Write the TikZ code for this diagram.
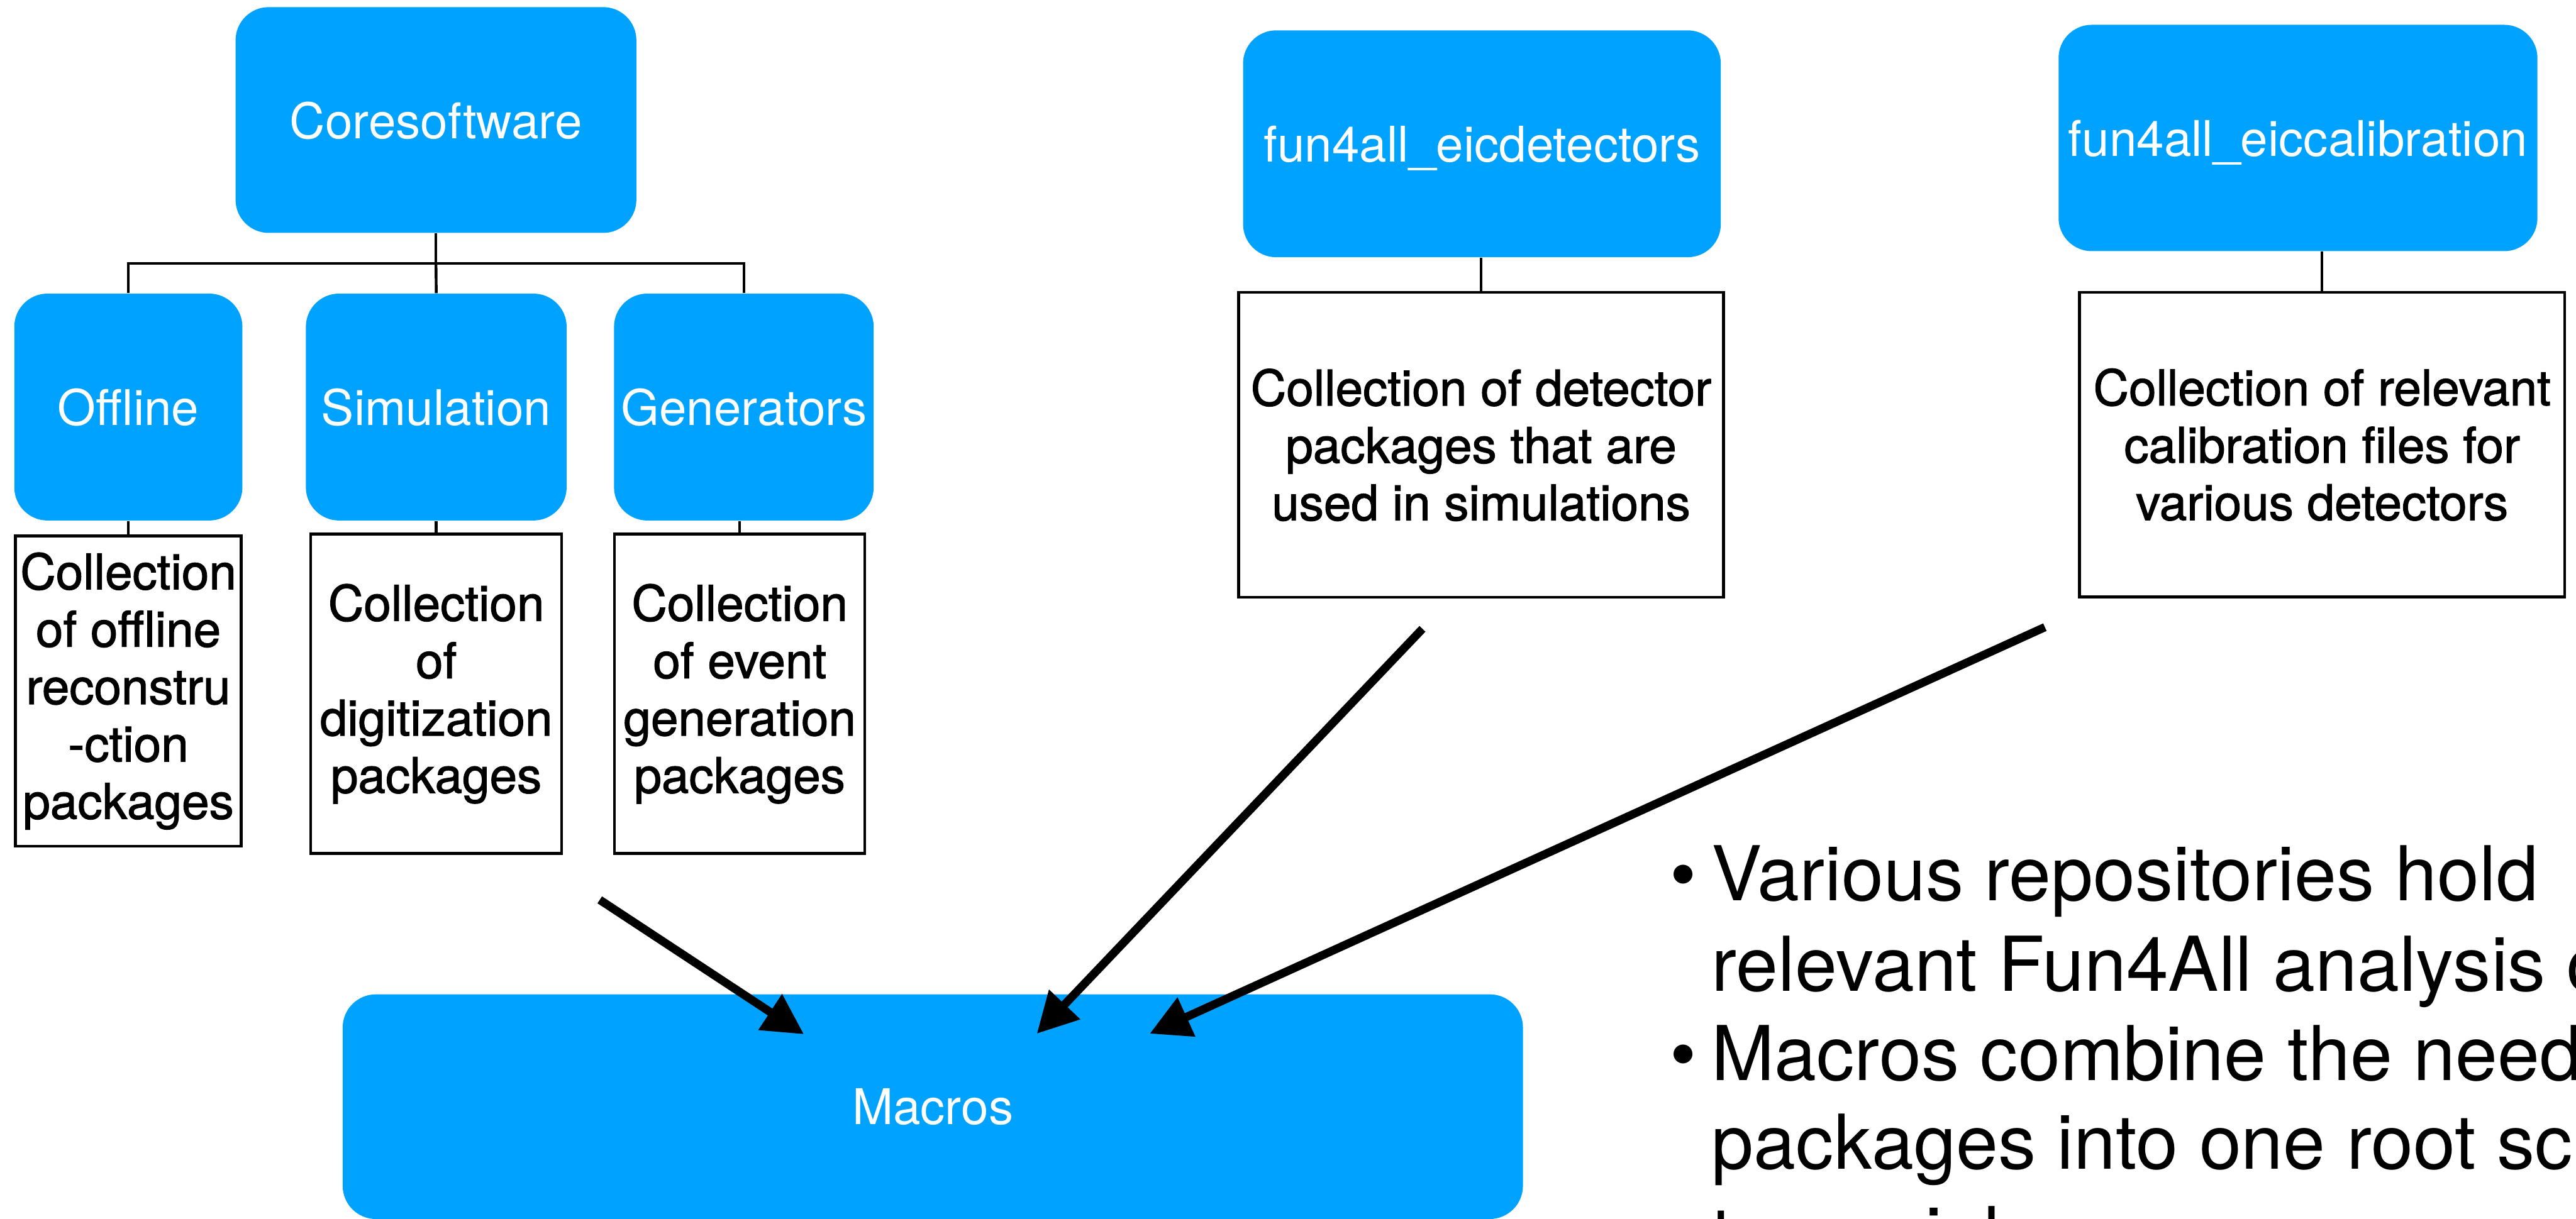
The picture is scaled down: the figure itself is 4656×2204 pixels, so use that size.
\documentclass[tikz,border=0pt]{standalone}
\usepackage{fontspec}
\setmainfont{TeX Gyre Heros}
\newfontfamily\descfont{TeX Gyre Heros}[FakeBold=1.5]
\usetikzlibrary{arrows.meta}
\definecolor{keyblue}{RGB}{0,162,255}

\begin{document}
\begin{tikzpicture}[x=0.01cm, y=-0.01cm,
  bluebox/.style={rectangle, rounded corners=0.6cm, fill=keyblue, text=white,
    inner sep=0pt, text depth=0pt, font=\fontsize{25.3pt}{29.5pt}\selectfont},
  descbox/.style={rectangle, draw=black, line width=0.05cm, fill=white,
    inner sep=0pt, align=center, font=\descfont\fontsize{25.3pt}{29.5pt}\selectfont},
  link/.style={line width=0.05cm},
  bigarrow/.style={line width=0.15cm, -{Triangle[length=0.73cm, width=0.74cm]}},
  bullettext/.style={anchor=base west, inner sep=0pt,
    font=\fontsize{38.9pt}{46pt}\selectfont}
]
\useasboundingbox (0,0) rectangle (4656,2204);
\clip (0,0) rectangle (4656,2204);

% core software tree
\node[bluebox, minimum width=7.24cm, minimum height=4.08cm] (core) at (788,217) {Coresoftware};
\node[bluebox, minimum width=4.12cm, minimum height=4.10cm] (off) at (232,736) {Offline};
\node[bluebox, minimum width=4.71cm, minimum height=4.10cm] (sim) at (788.5,736) {Simulation};
\node[bluebox, minimum width=4.69cm, minimum height=4.10cm] (gen) at (1344.5,736) {Generators};

\node[descbox, minimum width=4.08cm, minimum height=5.61cm] (offd) at (232,1249.5)
  {Collection\\of offline\\reconstru\\-ction\\packages};
\node[descbox, minimum width=4.53cm, minimum height=5.77cm] (simd) at (788.5,1254.5)
  {Collection\\of\\digitization\\packages};
\node[descbox, minimum width=4.52cm, minimum height=5.77cm] (gend) at (1337,1254.5)
  {Collection\\of event\\generation\\packages};

\coordinate (bar) at (788,476);
\draw[link] (core.south) -- (bar);
\draw[link] (off.north) |- (bar) -| (gen.north);
\draw[link] (bar) -- (sim.north);
\draw[link] (off.south) -- (off.south |- offd.north);
\draw[link] (sim.south) -- (sim.south |- simd.north);
\draw[link] (gend.north) -- (gend.north |- gen.south);

% detector and calibration repositories
\node[bluebox, minimum width=8.63cm, minimum height=4.10cm] (det) at (2678.5,260) {fun4all\_eicdetectors};
\node[descbox, minimum width=8.76cm, minimum height=5.51cm] (detd) at (2677,804.5)
  {Collection of detector\\packages that are\\used in simulations};
\draw[link] (detd.north) -- (detd.north |- det.south);

\node[bluebox, minimum width=8.65cm, minimum height=4.09cm] (cal) at (4153.5,249.5) {fun4all\_eiccalibration};
\node[descbox, minimum width=8.76cm, minimum height=5.50cm] (cald) at (4197,804)
  {Collection of relevant\\calibration files for\\various detectors};
\draw[link] (cald.north) -- (cald.north |- cal.south);

% macros
\node[bluebox, minimum width=21.32cm, minimum height=4.06cm] (mac) at (1686,2001) {Macros};

\coordinate (a1s) at (1084,1627);
\coordinate (a1t) at (1453,1870);
\coordinate (a2s) at (2571,1137);
\coordinate (a2t) at (1874,1869);
\coordinate (a3s) at (3696,1134);
\coordinate (a3t) at (2078,1869);
\draw[bigarrow] (a1s) -- (a1t);
\draw[bigarrow] (a2s) -- (a2t);
\draw[bigarrow] (a3s) -- (a3t);

% notes
\node[bullettext] (bul1) at (3018,1628) {\textbullet};
\node[bullettext] (txt1) at (3093,1628) {Various repositories hold};
\node[bullettext] (txt2) at (3093,1792) {relevant Fun4All analysis code};
\node[bullettext] (bul2) at (3018,1953) {\textbullet};
\node[bullettext] (txt3) at (3093,1953) {Macros combine the needed};
\node[bullettext] (txt4) at (3093,2114) {packages into one root script};
\node[bullettext] (txt5) at (3093,2281) {to run jobs};
\end{tikzpicture}
\end{document}
